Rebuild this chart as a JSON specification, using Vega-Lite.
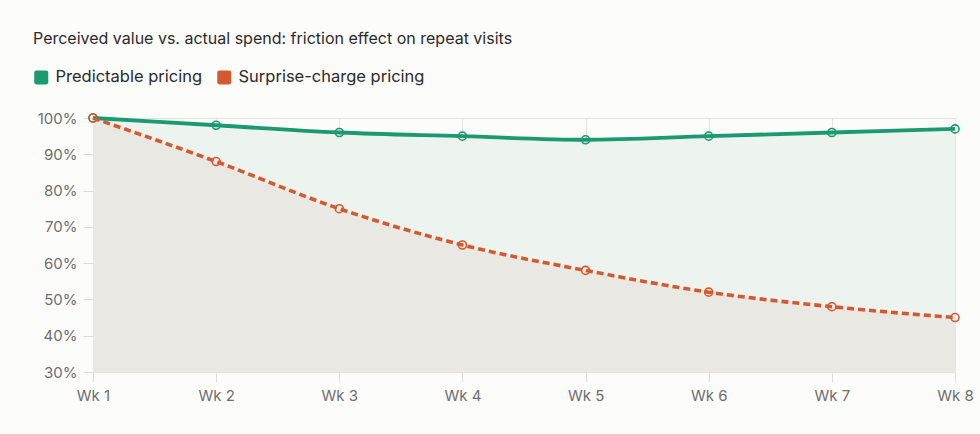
{
  "$schema": "https://vega.github.io/schema/vega-lite/v6.json",
  "width": 862,
  "height": 254,
  "autosize": {"type": "none"},
  "padding": {"left": 93, "top": 118, "right": 25, "bottom": 62},
  "background": "#fcfcfa",
  "title": {
    "text": "Perceived value vs. actual spend: friction effect on repeat visits",
    "anchor": "start",
    "frame": "group",
    "dx": -60,
    "fontSize": 16,
    "fontWeight": "normal",
    "font": "Inter",
    "color": "#2b2b2b",
    "offset": 22
  },
  "config": {
    "view": {"stroke": null},
    "font": "Inter",
    "axis": {
      "labelFont": "Inter",
      "labelFontSize": 15,
      "labelColor": "#6e6e6e",
      "gridColor": "#e3e3e0",
      "tickColor": "#dcdcd8",
      "tickSize": 10,
      "domain": false,
      "title": null
    }
  },
  "data": {
    "values": [
      {"week": "Wk 1", "series": "Predictable pricing", "value": 1.0},
      {"week": "Wk 2", "series": "Predictable pricing", "value": 0.98},
      {"week": "Wk 3", "series": "Predictable pricing", "value": 0.96},
      {"week": "Wk 4", "series": "Predictable pricing", "value": 0.95},
      {"week": "Wk 5", "series": "Predictable pricing", "value": 0.94},
      {"week": "Wk 6", "series": "Predictable pricing", "value": 0.95},
      {"week": "Wk 7", "series": "Predictable pricing", "value": 0.96},
      {"week": "Wk 8", "series": "Predictable pricing", "value": 0.97},
      {"week": "Wk 1", "series": "Surprise-charge pricing", "value": 1.0},
      {"week": "Wk 2", "series": "Surprise-charge pricing", "value": 0.88},
      {"week": "Wk 3", "series": "Surprise-charge pricing", "value": 0.75},
      {"week": "Wk 4", "series": "Surprise-charge pricing", "value": 0.65},
      {"week": "Wk 5", "series": "Surprise-charge pricing", "value": 0.58},
      {"week": "Wk 6", "series": "Surprise-charge pricing", "value": 0.52},
      {"week": "Wk 7", "series": "Surprise-charge pricing", "value": 0.48},
      {"week": "Wk 8", "series": "Surprise-charge pricing", "value": 0.45}
    ]
  },
  "encoding": {
    "x": {
      "field": "week",
      "type": "ordinal",
      "scale": {"type": "point", "padding": 0},
      "axis": {"labelAngle": 0, "labelPadding": 6, "grid": true}
    },
    "y": {
      "field": "value",
      "type": "quantitative",
      "scale": {"domain": [0.3, 1.0], "nice": false, "zero": false},
      "axis": {"values": [0.3, 0.4, 0.5, 0.6, 0.7, 0.8, 0.9, 1.0], "format": ".0%", "labelPadding": 6}
    }
  },
  "layer": [
    {
      "transform": [{"filter": "datum.series === 'Predictable pricing'"}],
      "mark": {"type": "area", "interpolate": "monotone", "fill": "#edf3ef", "opacity": 1},
      "encoding": {"y2": {"datum": 0.3}}
    },
    {
      "transform": [{"filter": "datum.series === 'Surprise-charge pricing'"}],
      "mark": {"type": "area", "interpolate": "monotone", "fill": "#e9e8e2", "opacity": 1},
      "encoding": {"y2": {"datum": 0.3}}
    },
    {
      "transform": [{"filter": "datum.series === 'Predictable pricing'"}],
      "mark": {"type": "point", "filled": false, "size": 64, "strokeWidth": 1.6, "opacity": 1, "color": "#1b9a72"},
      "encoding": {}
    },
    {
      "transform": [{"filter": "datum.series === 'Surprise-charge pricing'"}],
      "mark": {"type": "point", "filled": false, "size": 64, "strokeWidth": 1.6, "opacity": 1, "color": "#d35a30"},
      "encoding": {}
    },
    {
      "transform": [{"filter": "datum.series === 'Predictable pricing'"}],
      "mark": {"type": "line", "interpolate": "monotone", "strokeWidth": 3.8, "color": "#1b9a72"},
      "encoding": {}
    },
    {
      "transform": [{"filter": "datum.series === 'Surprise-charge pricing'"}],
      "mark": {"type": "line", "interpolate": "monotone", "strokeWidth": 3.6, "strokeDash": [7, 4], "color": "#d35a30"},
      "encoding": {}
    },
    {
      "mark": {"type": "square", "size": 0, "filled": true},
      "encoding": {
        "color": {
          "field": "series",
          "type": "nominal",
          "scale": {"domain": ["Predictable pricing", "Surprise-charge pricing"], "range": ["#1b9a72", "#d35a30"]},
          "legend": {
            "orient": "none",
            "direction": "horizontal",
            "legendX": -60,
            "legendY": -49,
            "title": null,
            "labelFont": "Inter",
            "labelFontSize": 16.5,
            "labelColor": "#2b2b2b",
            "labelLimit": 400,
            "symbolType": "M-0.7,-1L0.7,-1Q1,-1 1,-0.7L1,0.7Q1,1 0.7,1L-0.7,1Q-1,1 -1,0.7L-1,-0.7Q-1,-1 -0.7,-1Z",
            "symbolSize": 196,
            "symbolOpacity": 1,
            "symbolStrokeWidth": 0,
            "symbolOffset": 0,
            "labelOffset": 6,
            "columnPadding": 13
          }
        }
      }
    }
  ]
}
